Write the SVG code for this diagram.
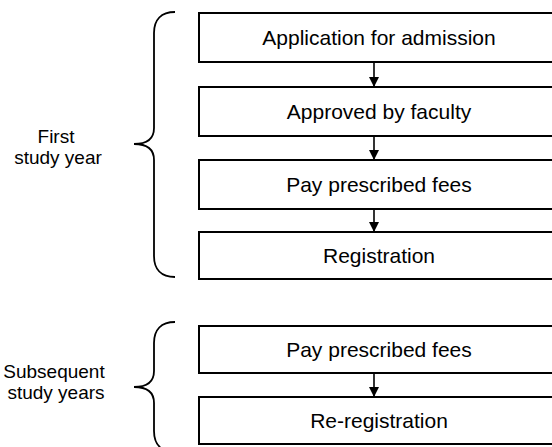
<svg xmlns="http://www.w3.org/2000/svg" width="552" height="447" viewBox="0 0 552 447">
<defs>
<style>
.box{fill:#fff;stroke:#000;stroke-width:2}
.bt{font-family:"Liberation Sans",Arial,sans-serif;font-size:21px;fill:#000;text-anchor:middle}
.lb{font-family:"Liberation Sans",Arial,sans-serif;font-size:19px;fill:#000;text-anchor:middle}
.brace{fill:none;stroke:#000;stroke-width:1.8}
.conn{stroke:#000;stroke-width:1.6;fill:none}
</style>
<marker id="ah" viewBox="0 0 10 10" refX="10" refY="5" markerWidth="10" markerHeight="10" markerUnits="userSpaceOnUse" orient="auto">
<path d="M0,0 L10,5 L0,10 z" fill="#000"/>
</marker>
</defs>
<rect width="552" height="447" fill="#fff"/>
<g id="brace1">
<path class="brace" d="M175,12 C161,12 154,20 154,33 L154,128 C154,139 147,144 134,144 C147,144 154,149 154,160 L154,256 C154,269 161,277 175,277"/>
<text class="lb" x="56" y="143">First</text>
<text class="lb" x="58" y="164">study year</text>
</g>
<g id="brace2">
<path class="brace" d="M175,322 C161,322 154,330 154,343 L154,371 C154,382 147,387 134,387 C147,387 154,392 154,403 L154,431 C154,444 161,452 175,452"/>
<text class="lb" x="54" y="378">Subsequent</text>
<text class="lb" x="56" y="399">study years</text>
</g>
<g id="n1"><rect class="box" x="199" y="13" width="360" height="49"/><text class="bt" x="379" y="45">Application for admission</text></g>
<g id="n2"><rect class="box" x="199" y="87" width="360" height="49"/><text class="bt" x="379" y="119">Approved by faculty</text></g>
<g id="n3"><rect class="box" x="199" y="160" width="360" height="49"/><text class="bt" x="379" y="192">Pay prescribed fees</text></g>
<g id="n4"><rect class="box" x="199" y="232" width="360" height="47"/><text class="bt" x="379" y="263">Registration</text></g>
<g id="n5"><rect class="box" x="199" y="326" width="360" height="47"/><text class="bt" x="379" y="357">Pay prescribed fees</text></g>
<g id="n6"><rect class="box" x="199" y="397" width="360" height="47"/><text class="bt" x="379" y="428">Re-registration</text></g>
<g id="connectors">
<line class="conn" x1="374" y1="62" x2="374" y2="87" marker-end="url(#ah)"/>
<line class="conn" x1="374" y1="136" x2="374" y2="160" marker-end="url(#ah)"/>
<line class="conn" x1="374" y1="209" x2="374" y2="232" marker-end="url(#ah)"/>
<line class="conn" x1="374" y1="373" x2="374" y2="397" marker-end="url(#ah)"/>
</g>
</svg>
